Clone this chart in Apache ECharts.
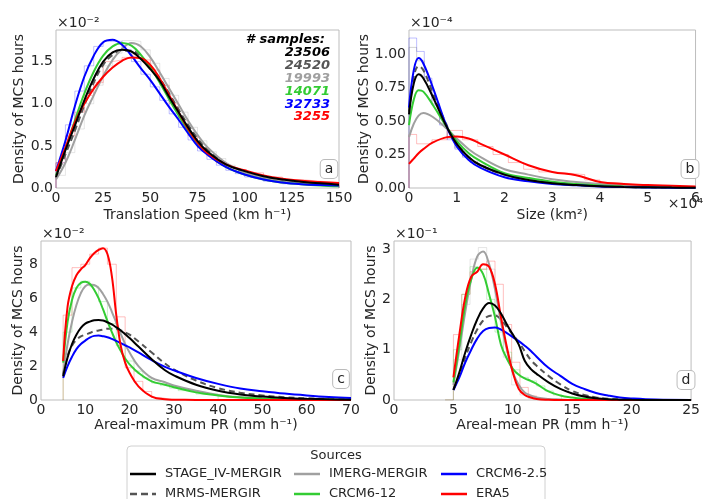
<!DOCTYPE html>
<html>
<head>
<meta charset="utf-8">
<script src="https://cdn.jsdelivr.net/npm/echarts@6/dist/echarts.min.js"></script>
<style>
  html, body { margin: 0; padding: 0; background: #fff; }
  #chart { width: 703px; height: 499px; }
</style>
</head>
<body>
<div id="chart"></div>
<script>
// source names, in legend order
const sources = ["STAGE_IV-MERGIR", "MRMS-MERGIR", "IMERG-MERGIR", "CRCM6-12", "CRCM6-2.5", "ERA5"];
const sampleCounts = ["23506", "24520", "19993", "14071", "32733", "3255"];

// (a) translation speed, km/h  -> density x1e-2
const speedX = [0, 5, 10, 15, 20, 25, 30, 35, 40, 45, 50, 55, 60, 65, 70, 75, 80, 90, 100, 110, 120, 130, 140, 150];
const speedStage = [0.13, 0.45, 0.74, 1.04, 1.3, 1.5, 1.61, 1.64, 1.62, 1.53, 1.41, 1.27, 1.08, 0.9, 0.72, 0.56, 0.44, 0.28, 0.2, 0.14, 0.1, 0.075, 0.055, 0.04];
const speedMrms = [0.12, 0.4, 0.68, 0.98, 1.25, 1.46, 1.58, 1.63, 1.63, 1.56, 1.45, 1.3, 1.12, 0.93, 0.75, 0.59, 0.46, 0.29, 0.19, 0.13, 0.09, 0.065, 0.045, 0.035];
const speedImerg = [0.1, 0.3, 0.57, 0.86, 1.1, 1.33, 1.52, 1.65, 1.72, 1.68, 1.55, 1.37, 1.18, 0.99, 0.8, 0.63, 0.49, 0.3, 0.19, 0.12, 0.08, 0.055, 0.04, 0.03];
const speedCrcm12 = [0.15, 0.46, 0.8, 1.12, 1.38, 1.57, 1.68, 1.72, 1.69, 1.58, 1.43, 1.25, 1.05, 0.86, 0.68, 0.53, 0.41, 0.25, 0.16, 0.1, 0.065, 0.045, 0.03, 0.02];
const speedCrcm25 = [0.2, 0.56, 0.97, 1.32, 1.57, 1.73, 1.76, 1.7, 1.57, 1.42, 1.28, 1.12, 0.96, 0.81, 0.65, 0.5, 0.4, 0.25, 0.16, 0.1, 0.065, 0.045, 0.035, 0.03];
const speedEra5 = [0.2, 0.48, 0.78, 1.0, 1.18, 1.32, 1.43, 1.51, 1.55, 1.54, 1.46, 1.3, 1.1, 0.9, 0.7, 0.54, 0.42, 0.28, 0.21, 0.15, 0.11, 0.085, 0.07, 0.06];

// (b) size, x1e4 km2 -> density x1e-4
const sizeX = [0, 0.1, 0.2, 0.3, 0.5, 0.8, 1, 1.25, 1.5, 2, 2.5, 3, 3.5, 4, 4.5, 5, 5.5, 6];
const sizeStage = [0.55, 0.78, 0.85, 0.82, 0.68, 0.45, 0.33, 0.23, 0.17, 0.1, 0.06, 0.035, 0.022, 0.013, 0.008, 0.005, 0.003, 0.002];
const sizeMrms = [0.57, 0.83, 0.91, 0.88, 0.71, 0.46, 0.33, 0.23, 0.17, 0.1, 0.06, 0.036, 0.022, 0.013, 0.008, 0.005, 0.003, 0.002];
const sizeImerg = [0.38, 0.48, 0.54, 0.56, 0.53, 0.44, 0.37, 0.29, 0.23, 0.14, 0.1, 0.065, 0.045, 0.03, 0.02, 0.012, 0.008, 0.005];
const sizeCrcm12 = [0.47, 0.66, 0.73, 0.72, 0.62, 0.45, 0.35, 0.26, 0.2, 0.11, 0.075, 0.047, 0.03, 0.018, 0.01, 0.006, 0.004, 0.002];
const sizeCrcm25 = [0.6, 0.88, 0.97, 0.93, 0.75, 0.45, 0.31, 0.21, 0.15, 0.08, 0.05, 0.03, 0.02, 0.012, 0.007, 0.004, 0.002, 0.001];
const sizeEra5 = [0.18, 0.22, 0.26, 0.29, 0.34, 0.38, 0.385, 0.37, 0.33, 0.25, 0.17, 0.12, 0.095, 0.045, 0.03, 0.022, 0.017, 0.012];

// (c) areal-maximum PR, mm/h -> density x1e-2
const maxX = [5, 6, 7, 8, 9, 10, 11, 12, 13, 14, 15, 16, 17, 18, 19, 20, 22, 25, 28, 30, 35, 40, 45, 50, 55, 60, 65, 70];
const maxStage = [1.4, 2.5, 3.3, 3.85, 4.25, 4.5, 4.62, 4.7, 4.72, 4.68, 4.58, 4.45, 4.28, 4.1, 3.88, 3.65, 3.15, 2.4, 1.75, 1.45, 0.9, 0.55, 0.33, 0.2, 0.12, 0.07, 0.04, 0.02];
const maxMrms = [1.5, 2.6, 3.2, 3.55, 3.75, 3.85, 3.95, 4.05, 4.1, 4.15, 4.2, 4.2, 4.18, 4.1, 3.98, 3.85, 3.45, 2.8, 2.15, 1.8, 1.15, 0.7, 0.43, 0.27, 0.16, 0.1, 0.06, 0.03];
const maxImerg = [1.5, 3.3, 4.6, 5.6, 6.3, 6.7, 6.8, 6.78, 6.6, 6.25, 5.8, 5.2, 4.55, 3.9, 3.3, 2.8, 2.0, 1.3, 1.05, 0.85, 0.55, 0.3, 0.16, 0.08, 0.04, 0.02, 0.01, 0.005];
const maxCrcm12 = [2.2, 4.6, 5.9, 6.6, 6.9, 6.97, 6.85, 6.5, 6.0, 5.35, 4.65, 4.0, 3.4, 2.9, 2.45, 2.1, 1.6, 1.1, 0.9, 0.75, 0.45, 0.27, 0.15, 0.09, 0.05, 0.03, 0.015, 0.008];
const maxCrcm25 = [1.3, 2.0, 2.55, 3.0, 3.3, 3.5, 3.68, 3.78, 3.8, 3.76, 3.7, 3.6, 3.48, 3.35, 3.22, 3.1, 2.8, 2.35, 1.95, 1.75, 1.3, 0.95, 0.68, 0.52, 0.38, 0.27, 0.18, 0.12];
const maxEra5 = [2.3, 5.5, 6.7, 7.35, 7.7, 7.95, 8.35, 8.65, 8.85, 8.95, 8.6, 7.3, 5.0, 3.2, 2.2, 1.6, 0.8, 0.2, 0.04, 0.02, 0.005, 0, 0, 0, 0, 0, 0, 0];

// (d) areal-mean PR, mm/h -> density x1e-1
const meanX = [5, 5.5, 6, 6.5, 7, 7.5, 8, 8.5, 9, 9.5, 10, 10.5, 11, 11.5, 12, 13, 14, 15, 16, 17, 18, 19, 20, 22, 25];
const meanStage = [0.2, 0.55, 0.95, 1.3, 1.6, 1.82, 1.93, 1.88, 1.72, 1.5, 1.3, 1.1, 0.78, 0.62, 0.52, 0.35, 0.22, 0.13, 0.07, 0.035, 0.015, 0.007, 0.003, 0, 0];
const meanMrms = [0.2, 0.5, 0.85, 1.15, 1.4, 1.58, 1.67, 1.68, 1.6, 1.45, 1.3, 1.15, 0.97, 0.8, 0.68, 0.48, 0.31, 0.18, 0.1, 0.05, 0.025, 0.01, 0.005, 0, 0];
const meanImerg = [0.3, 1.0, 1.75, 2.4, 2.85, 2.95, 2.7, 2.2, 1.55, 1.0, 0.55, 0.3, 0.15, 0.09, 0.05, 0.02, 0.01, 0, 0, 0, 0, 0, 0, 0, 0];
const meanCrcm12 = [0.35, 1.1, 1.9, 2.4, 2.63, 2.5, 2.1, 1.65, 1.1, 0.82, 0.62, 0.5, 0.43, 0.38, 0.32, 0.17, 0.09, 0.05, 0.025, 0.01, 0.005, 0, 0, 0, 0];
const meanCrcm25 = [0.2, 0.45, 0.75, 1.0, 1.22, 1.37, 1.43, 1.44, 1.4, 1.33, 1.25, 1.17, 1.08, 0.98, 0.86, 0.64, 0.48, 0.32, 0.22, 0.14, 0.09, 0.05, 0.03, 0.008, 0.001];
const meanEra5 = [0.45, 1.3, 2.05, 2.45, 2.55, 2.7, 2.65, 2.3, 1.65, 1.05, 0.55, 0.22, 0.1, 0.05, 0.02, 0.005, 0, 0, 0, 0, 0, 0, 0, 0, 0];

// faint step histograms behind the curves (bin edges + bin heights)
const speedBinEdges = [0, 5, 10, 15, 20, 25, 30, 35, 40, 45, 50, 55, 60, 65, 70, 75, 80, 85, 90, 95, 100, 110, 120, 130, 140, 150];
const speedHistCrcm25 = [0.3, 0.75, 1.15, 1.45, 1.68, 1.74, 1.74, 1.64, 1.5, 1.35, 1.2, 1.04, 0.88, 0.72, 0.57, 0.44, 0.34, 0.27, 0.21, 0.17, 0.13, 0.08, 0.05, 0.04, 0.03];
const speedHistImerg = [0.15, 0.42, 0.7, 1.0, 1.22, 1.45, 1.6, 1.75, 1.74, 1.64, 1.48, 1.3, 1.1, 0.9, 0.72, 0.56, 0.43, 0.35, 0.27, 0.21, 0.16, 0.1, 0.065, 0.045, 0.035];
const speedHistEra5 = [0.3, 0.62, 0.9, 1.1, 1.25, 1.5, 1.52, 1.55, 1.58, 1.52, 1.4, 1.22, 1.0, 0.8, 0.62, 0.48, 0.38, 0.3, 0.25, 0.22, 0.18, 0.13, 0.1, 0.08, 0.065];

const sizeBinEdgesFine = [0, 0.16, 0.32, 0.48, 0.64, 0.8, 0.96, 1.12, 1.28, 1.44, 1.6, 1.76, 1.92, 2.08, 2.4, 2.8, 3.2, 3.6, 4.0, 4.8, 6.0];
const sizeHistCrcm25 = [1.12, 1.02, 0.82, 0.62, 0.47, 0.36, 0.29, 0.23, 0.19, 0.16, 0.13, 0.11, 0.09, 0.07, 0.05, 0.035, 0.025, 0.015, 0.008, 0.003];
const sizeHistMrms = [1.05, 0.95, 0.8, 0.63, 0.48, 0.37, 0.3, 0.24, 0.2, 0.17, 0.14, 0.12, 0.1, 0.08, 0.06, 0.04, 0.03, 0.02, 0.01, 0.005];
const sizeBinEdgesEra5 = [0, 0.16, 0.48, 0.8, 1.12, 1.44, 1.76, 2.08, 2.4, 2.72, 3.04, 3.36, 3.68, 4.0, 4.32, 4.64, 4.96, 5.6, 6.0];
const sizeHistEra5 = [0.4, 0.33, 0.36, 0.43, 0.36, 0.31, 0.25, 0.19, 0.14, 0.12, 0.11, 0.1, 0.06, 0.04, 0.03, 0.02, 0.015, 0.01];

const maxBinEdges = [5, 7, 9, 11, 13, 15, 17, 19, 21, 23, 25, 27, 29, 31, 35, 40];
const maxHistEra5 = [5.0, 7.8, 8.0, 8.6, 8.95, 8.0, 4.9, 1.9, 1.1, 0.5, 0.15, 0.05, 0.02, 0.005, 0];
const maxHistCrcm12 = [4.0, 6.6, 7.0, 6.7, 5.8, 4.5, 3.2, 2.3, 1.7, 1.3, 1.0, 0.85, 0.7, 0.55, 0.35];

const meanBinEdges = [4.3, 5.0, 5.7, 6.4, 7.1, 7.8, 8.5, 9.2, 9.9, 10.6, 11.3, 12.0, 12.7, 13.4, 14.1];
const meanHistEra5 = [0, 1.3, 2.1, 2.55, 2.6, 2.76, 2.3, 1.5, 0.75, 0.25, 0.08, 0.02, 0, 0];
const meanHistCrcm12 = [0, 1.0, 2.1, 2.65, 2.6, 2.0, 1.35, 0.95, 0.6, 0.45, 0.38, 0.28, 0.18, 0.1];
const meanHistImerg = [0, 0.8, 1.9, 2.8, 3.03, 2.6, 1.7, 0.85, 0.3, 0.1, 0.03, 0, 0, 0];

const panels = [
  { x: speedX, ys: [speedStage, speedMrms, speedImerg, speedCrcm12, speedCrcm25, speedEra5] },
  { x: sizeX, ys: [sizeStage, sizeMrms, sizeImerg, sizeCrcm12, sizeCrcm25, sizeEra5] },
  { x: maxX, ys: [maxStage, maxMrms, maxImerg, maxCrcm12, maxCrcm25, maxEra5] },
  { x: meanX, ys: [meanStage, meanMrms, meanImerg, meanCrcm12, meanCrcm25, meanEra5] },
];

// [panel, source index, edges, heights]
const histograms = [
  [0, 4, speedBinEdges, speedHistCrcm25],
  [0, 2, speedBinEdges, speedHistImerg],
  [0, 5, speedBinEdges, speedHistEra5],
  [1, 4, sizeBinEdgesFine, sizeHistCrcm25],
  [1, 1, sizeBinEdgesFine, sizeHistMrms],
  [1, 5, sizeBinEdgesEra5, sizeHistEra5],
  [2, 5, maxBinEdges, maxHistEra5],
  [2, 3, maxBinEdges, maxHistCrcm12],
  [3, 5, meanBinEdges, meanHistEra5],
  [3, 3, meanBinEdges, meanHistCrcm12],
  [3, 2, meanBinEdges, meanHistImerg],
];

const COLORS = ["#000000", "#555555", "#a0a0a0", "#33cc33", "#0000ff", "#ff0000"];
const DASHES = ["solid", [6, 4], "solid", "solid", "solid", "solid"];
const FONT = "DejaVu Sans";
const TEXT_COLOR = "#262626";
const FRAME_COLOR = "#bdbdbd";

// grid boxes: a, b (top) and c, d (bottom)
const GRIDS = [
  { left: 56, top: 30, width: 283, height: 158 },
  { left: 409, top: 30, width: 288, height: 158 },
  { left: 41, top: 241, width: 310, height: 159 },
  { left: 394, top: 241, width: 303, height: 159 },
];

const X_AXES = [
  { max: 150, interval: 25, name: "Translation Speed (km h⁻¹)" },
  { max: 6, interval: 1, name: "Size (km²)" },
  { max: 70, interval: 10, name: "Areal-maximum PR (mm h⁻¹)" },
  { max: 25, interval: 5, name: "Areal-mean PR (mm h⁻¹)" },
];

const Y_AXES = [
  { max: 1.875, interval: 0.5, digits: 1, unit: "×10⁻²", gap: 29 },
  { max: 1.18, interval: 0.25, digits: 2, unit: "×10⁻⁴", gap: 37 },
  { max: 9.37, interval: 2, digits: 0, unit: "×10⁻²", gap: 14 },
  { max: 3.16, interval: 1, digits: 0, unit: "×10⁻¹", gap: 14 },
];

const labelStyle = { fontFamily: FONT, fontSize: 14, color: TEXT_COLOR };

const series = [];

// histograms first so they sit under the curves
histograms.forEach(([p, s, edges, heights]) => {
  const data = [[edges[0], 0]];
  heights.forEach((h, i) => data.push([edges[i + 1], h]));
  data.push([edges[edges.length - 1], 0]);
  series.push({
    type: "line",
    name: sources[s] + " hist",
    xAxisIndex: p,
    yAxisIndex: p,
    data,
    step: "start",
    symbol: "none",
    silent: true,
    z: 1,
    lineStyle: { color: COLORS[s], width: 1, opacity: 0.25 },
  });
});

panels.forEach((panel, p) => {
  panel.ys.forEach((ys, s) => {
    series.push({
      type: "line",
      name: sources[s],
      xAxisIndex: p,
      yAxisIndex: p,
      data: panel.x.map((x, i) => [x, ys[i]]),
      smooth: 0.4,
      symbol: "none",
      silent: true,
      z: s === 0 ? 5 : 3,
      lineStyle: { color: COLORS[s], width: 2, type: DASHES[s] },
    });
  });
});

// boxed panel letters
const panelTags = [
  { text: "a", x: 329, y: 169 },
  { text: "b", x: 690, y: 169 },
  { text: "c", x: 341, y: 379 },
  { text: "d", x: 686, y: 380 },
];

const graphics = [];
panelTags.forEach((t) => {
  graphics.push({
    type: "text",
    x: t.x,
    y: t.y,
    style: {
      text: t.text,
      fontFamily: FONT,
      fontSize: 14,
      fill: TEXT_COLOR,
      align: "center",
      verticalAlign: "middle",
      backgroundColor: "#fff",
      borderColor: "#bbb",
      borderWidth: 1,
      borderRadius: 4,
      padding: [2, 4, 2, 4],
    },
    z: 10,
  });
});

// sample counts in panel a
graphics.push({
  type: "text", x: 325, y: 40,
  style: { text: "# samples:", fontFamily: FONT, fontSize: 13, fontWeight: "bold", fontStyle: "italic", fill: "#000", align: "right", verticalAlign: "middle" },
  z: 10,
});
sampleCounts.forEach((n, i) => {
  graphics.push({
    type: "text", x: 330, y: 53 + i * 12.8,
    style: { text: n, fontFamily: FONT, fontSize: 13, fontWeight: "bold", fontStyle: "italic", fill: COLORS[i], align: "right", verticalAlign: "middle" },
    z: 10,
  });
});

// x1e4 multiplier for size axis
graphics.push({
  type: "text", x: 703, y: 204,
  style: { text: "×10⁴", fontFamily: FONT, fontSize: 14, fill: TEXT_COLOR, align: "right", verticalAlign: "middle" },
});

// legend: frame, title, three columns of two rows
graphics.push({
  type: "rect",
  shape: { x: 127, y: 446, width: 418, height: 70, r: 4 },
  style: { fill: "#fff", stroke: "#d0d0d0", lineWidth: 1 },
  z: 0,
});
graphics.push({
  type: "text", x: 336, y: 456,
  style: { text: "Sources", fontFamily: FONT, fontSize: 13, fill: TEXT_COLOR, align: "center", verticalAlign: "middle" },
});
const LEGEND_COLS = [130, 294, 441];
const LEGEND_ROWS = [474, 494];
sources.forEach((name, i) => {
  const x0 = LEGEND_COLS[Math.floor(i / 2)];
  const y0 = LEGEND_ROWS[i % 2];
  graphics.push({
    type: "line",
    shape: { x1: x0, y1: y0, x2: x0 + 26, y2: y0 },
    style: { stroke: COLORS[i], lineWidth: 2.5, lineDash: Array.isArray(DASHES[i]) ? [7, 4] : null },
  });
  graphics.push({
    type: "text", x: x0 + 35, y: y0,
    style: { text: name, fontFamily: FONT, fontSize: 13, fill: TEXT_COLOR, align: "left", verticalAlign: "middle" },
  });
});

// axis multipliers above each panel
Y_AXES.forEach((a, i) => {
  graphics.push({
    type: "text",
    x: GRIDS[i].left + 1,
    y: GRIDS[i].top - 7,
    style: { text: a.unit, fontFamily: FONT, fontSize: 14, fill: TEXT_COLOR, align: "left", verticalAlign: "middle" },
  });
});

const chart = echarts.init(document.getElementById("chart"), null, { renderer: "canvas" });

chart.setOption({
  animation: false,
  backgroundColor: "#fff",
  grid: GRIDS.map((g) => ({ ...g, show: true, borderColor: FRAME_COLOR, borderWidth: 1, backgroundColor: "transparent" })),
  xAxis: X_AXES.map((a, i) => ({
    type: "value",
    gridIndex: i,
    min: 0,
    max: a.max,
    interval: a.interval,
    name: a.name,
    nameLocation: "middle",
    nameGap: i < 2 ? 20 : 18,
    nameTextStyle: labelStyle,
    axisLine: { show: false },
    axisTick: { show: false },
    splitLine: { show: false },
    axisLabel: { ...labelStyle, margin: 3 },
  })),
  yAxis: Y_AXES.map((a, i) => ({
    type: "value",
    gridIndex: i,
    min: 0,
    max: a.max,
    interval: a.interval,
    name: "Density of MCS hours",
    nameLocation: "middle",
    nameGap: a.gap,
    nameTextStyle: labelStyle,
    axisLine: { show: false },
    axisTick: { show: false },
    splitLine: { show: false },
    axisLabel: {
      ...labelStyle,
      margin: 3,
      showMaxLabel: false,
      formatter: (v) => v.toFixed(a.digits),
    },
  })),
  graphic: graphics,
  series,
});
</script>
</body>
</html>
